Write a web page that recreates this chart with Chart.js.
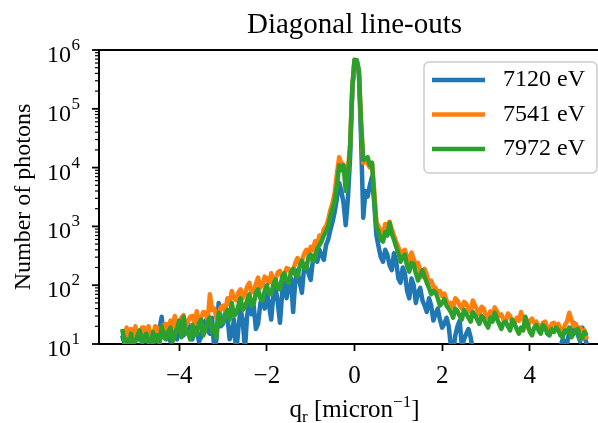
<!DOCTYPE html>
<html>
<head>
<meta charset="utf-8">
<script src="https://cdn.jsdelivr.net/npm/chart.js@4"></script>
<style>
  body { margin: 0; background: #fff; }
  #wrap { width: 598px; height: 423px; overflow: hidden; }
</style>
</head>
<body>
<div id="wrap"><canvas id="lineouts" width="710" height="423"></canvas></div>
<script>
// q_r positions (micron^-1)
var qValues = [
  -5.3, -5.25, -5.2, -5.15, -5.1, -5.05, -5.0, -4.95, -4.9, -4.85, -4.8, -4.75, -4.7, -4.65, -4.6, -4.55,
  -4.5, -4.45, -4.4, -4.35, -4.3, -4.25, -4.2, -4.15, -4.1, -4.05, -4.0, -3.95, -3.9, -3.85, -3.8, -3.75,
  -3.7, -3.65, -3.6, -3.55, -3.5, -3.45, -3.4, -3.35, -3.3, -3.25, -3.2, -3.15, -3.1, -3.05, -3.0, -2.95,
  -2.9, -2.85, -2.8, -2.75, -2.7, -2.65, -2.6, -2.55, -2.5, -2.45, -2.4, -2.35, -2.3, -2.25, -2.2, -2.15,
  -2.1, -2.05, -2.0, -1.95, -1.9, -1.85, -1.8, -1.75, -1.7, -1.65, -1.6, -1.55, -1.5, -1.45, -1.4, -1.35,
  -1.3, -1.25, -1.2, -1.15, -1.1, -1.05, -1.0, -0.95, -0.9, -0.85, -0.8, -0.75, -0.7, -0.65,
  -0.6, -0.55, -0.5, -0.45, -0.4, -0.35, -0.3, -0.25, -0.2, -0.15, -0.1, -0.05, 0,
  0.05, 0.1, 0.15, 0.2, 0.25, 0.3, 0.35, 0.4, 0.45, 0.5, 0.55, 0.6,
  0.65, 0.7, 0.75, 0.8, 0.85, 0.9, 0.95, 1.0, 1.05, 1.1, 1.15, 1.2, 1.25, 1.3, 1.35, 1.4,
  1.45, 1.5, 1.55, 1.6, 1.65, 1.7, 1.75, 1.8, 1.85, 1.9, 1.95, 2.0, 2.05, 2.1, 2.15, 2.2,
  2.25, 2.3, 2.35, 2.4, 2.45, 2.5, 2.55, 2.6, 2.65, 2.7, 2.75, 2.8, 2.85, 2.9, 2.95, 3.0,
  3.05, 3.1, 3.15, 3.2, 3.25, 3.3, 3.35, 3.4, 3.45, 3.5, 3.55, 3.6, 3.65, 3.7, 3.75, 3.8,
  3.85, 3.9, 3.95, 4.0, 4.05, 4.1, 4.15, 4.2, 4.25, 4.3, 4.35, 4.4, 4.45, 4.5, 4.55, 4.6,
  4.65, 4.7, 4.75, 4.8, 4.85, 4.9, 4.95, 5.0, 5.05, 5.1, 5.15, 5.2, 5.25, 5.3
];

// photon counts
var counts7120 = [
  14, 10, 11, 15, 13, 9, 16, 12, 12, 16, 15, 11, 13, 14, 10, 15,
  12, 18, 29, 13, 15, 19, 11, 16, 17, 12, 20, 15, 14, 19, 22, 14,
  12, 20, 18, 11, 13, 21, 25, 17, 15, 28, 8, 12, 50, 20, 22, 35,
  30, 12, 15, 26, 7, 18, 40, 25, 8, 30, 55, 32, 45, 18, 22, 48,
  65, 40, 80, 45, 26, 70, 90, 50, 23, 75, 110, 60, 100, 130, 35, 120,
  180, 110, 74, 200, 230, 160, 123, 260, 330, 250, 400, 320, 270, 480,
  600, 870, 1200, 1800, 3000, 5500, 4000, 2500, 1050, 3000, 15000, 200000, 650000,
  650000, 400000, 30000, 1400, 4000, 3200, 5000, 7000, 2500, 700, 450, 300,
  250, 400, 330, 220, 180, 350, 260, 130, 110, 200, 160, 80, 60, 130, 100, 50,
  75, 90, 55, 45, 35, 60, 45, 25, 33, 40, 26, 19, 22, 28, 20, 9,
  7, 14, 20, 25, 9, 12, 15, 18, 13, 8, 9, 6, 7, 5, 6, 4,
  5, 4, 4, 4, 4, 4, 4, 4, 4, 4, 4, 4, 4, 4, 4, 4,
  4, 4, 4, 4, 4, 5, 4, 5, 5, 6, 5, 6, 6, 7, 7, 8,
  8, 9, 12, 11, 10, 16, 14, 23, 17, 14, 11, 19, 13, 10
];
var counts7541 = [
  8, 7, 19, 13, 18, 12, 20, 15, 14, 19, 19, 12, 20, 14, 13, 20,
  19, 13, 16, 21, 22, 15, 25, 18, 30, 20, 22, 28, 31, 20, 24, 29,
  30, 22, 36, 24, 28, 35, 34, 25, 70, 38, 40, 28, 32, 42, 45, 35,
  60, 48, 80, 60, 55, 75, 85, 60, 70, 95, 110, 75, 80, 105, 135, 90,
  100, 140, 130, 110, 160, 115, 130, 165, 175, 135, 150, 195, 190, 160, 180, 240,
  290, 230, 260, 340, 400, 330, 450, 390, 560, 500, 700, 620, 900, 1000,
  1300, 1900, 2500, 3800, 8000, 15000, 12000, 11000, 6000, 9000, 25000, 230000, 680000,
  670000, 450000, 60000, 12000, 13500, 12000, 10000, 12000, 4000, 1200, 1000, 800,
  700, 1100, 850, 1200, 900, 700, 550, 450, 320, 380, 400, 300, 250, 360, 280, 220,
  240, 170, 140, 190, 150, 110, 120, 95, 90, 75, 80, 65, 72, 55, 45, 50,
  42, 60, 55, 45, 40, 52, 48, 40, 35, 55, 45, 38, 32, 43, 40, 30,
  28, 36, 30, 42, 36, 30, 32, 26, 24, 33, 30, 24, 22, 28, 25, 35,
  27, 22, 19, 25, 27, 23, 24, 20, 18, 23, 24, 19, 17, 22, 23, 20,
  22, 18, 16, 21, 24, 34, 26, 20, 22, 17, 19, 15, 17, 12
];
var counts7972 = [
  18, 11, 12, 9, 15, 10, 11, 14, 17, 10, 13, 15, 11, 9, 16, 11,
  14, 10, 20, 13, 12, 16, 19, 11, 14, 18, 25, 13, 29, 15, 16, 12,
  21, 14, 15, 22, 26, 14, 18, 24, 28, 16, 20, 13, 34, 22, 24, 30,
  38, 26, 50, 30, 33, 45, 60, 38, 42, 55, 70, 45, 48, 75, 85, 60,
  55, 80, 100, 72, 70, 105, 125, 90, 85, 140, 160, 115, 110, 165, 190, 150,
  140, 210, 260, 200, 190, 300, 330, 260, 280, 420, 480, 560, 700, 820,
  1000, 1500, 2000, 2800, 5000, 11000, 9000, 11000, 4000, 7000, 22000, 230000, 680000,
  670000, 450000, 55000, 13500, 14000, 15000, 11000, 12000, 3000, 1000, 800, 600,
  550, 800, 700, 1150, 750, 600, 450, 350, 250, 300, 330, 210, 170, 240, 230, 160,
  120, 150, 180, 140, 110, 90, 70, 80, 75, 60, 45, 50, 58, 45, 40, 35,
  28, 40, 36, 30, 26, 38, 33, 28, 24, 35, 31, 26, 22, 30, 27, 22,
  19, 28, 24, 34, 27, 22, 18, 23, 24, 20, 17, 26, 22, 18, 15, 19,
  17, 29, 22, 16, 14, 19, 21, 17, 15, 21, 19, 15, 14, 18, 16, 19,
  17, 14, 13, 17, 16, 19, 13, 15, 17, 18, 12, 13, 16, 14
];

var seriesLabels = ['7120 eV', '7541 eV', '7972 eV'];
var seriesColors = ['#1f77b4', '#ff7f0e', '#2ca02c'];
var xTicks = [-4, -2, 0, 2, 4];
var yTickExps = [1, 2, 3, 4, 5, 6];

var serif = "'Liberation Serif', 'Times New Roman', serif";

function points(vals) {
  return qValues.map(function (q, i) { return { x: q, y: vals[i] }; });
}

// title, y tick marks/labels, x label, top spine and legend
var decor = {
  id: 'decor',
  afterDraw: function (chart) {
    var ctx = chart.ctx, a = chart.chartArea, y = chart.scales.y;
    var cx = (a.left + a.right) / 2;
    ctx.save();
    ctx.fillStyle = '#000';
    ctx.strokeStyle = '#000';

    // top spine
    ctx.lineWidth = 2;
    ctx.beginPath();
    ctx.moveTo(a.left - 1, a.top);
    ctx.lineTo(a.right, a.top);
    ctx.stroke();

    // title
    ctx.font = '29px ' + serif;
    ctx.textAlign = 'center';
    ctx.textBaseline = 'alphabetic';
    ctx.fillText('Diagonal line-outs', cx, 33);

    // y ticks, major and minor
    for (var k = yTickExps[0]; k <= yTickExps[yTickExps.length - 1]; k++) {
      for (var m = 1; m <= 9; m++) {
        if (k === yTickExps[yTickExps.length - 1] && m > 1) break;
        var py = y.getPixelForValue(m * Math.pow(10, k));
        ctx.lineWidth = m === 1 ? 1.8 : 1.2;
        ctx.beginPath();
        ctx.moveTo(a.left, py);
        ctx.lineTo(a.left - (m === 1 ? 7 : 4), py);
        ctx.stroke();
      }
    }

    // y tick labels 10^k
    ctx.textAlign = 'left';
    yTickExps.forEach(function (e) {
      var py = y.getPixelForValue(Math.pow(10, e));
      ctx.font = '17px ' + serif;
      var sw = ctx.measureText(String(e)).width;
      var right = a.left - 19;
      ctx.fillText(String(e), right - sw, py);
      ctx.font = '24px ' + serif;
      var bw = ctx.measureText('10').width;
      ctx.fillText('10', right - sw - bw - 0.5, py + 12);
    });

    // x axis label: q_r [micron^-1]
    var parts = [
      ['q', 25, 0], ['r', 17, 5], [' [micron', 25, 0], ['\u22121', 17, -10], [']', 25, 0]
    ];
    var total = 0;
    parts.forEach(function (p) {
      ctx.font = p[1] + 'px ' + serif;
      p.push(ctx.measureText(p[0]).width);
      total += p[3];
    });
    var tx = cx - total / 2;
    parts.forEach(function (p) {
      ctx.font = p[1] + 'px ' + serif;
      ctx.fillText(p[0], tx, 417 + p[2]);
      tx += p[3];
    });

    // legend
    var w = 173, h = 111;
    var x0 = a.right - 13 - w, y0 = a.top + 12;
    ctx.beginPath();
    ctx.roundRect(x0, y0, w, h, 5);
    ctx.fillStyle = 'rgba(255,255,255,0.8)';
    ctx.fill();
    ctx.strokeStyle = '#cccccc';
    ctx.lineWidth = 1.5;
    ctx.stroke();
    ctx.font = '24px ' + serif;
    ctx.textBaseline = 'middle';
    seriesLabels.forEach(function (lab, i) {
      var ly = y0 + 18 + i * 34.5;
      ctx.strokeStyle = seriesColors[i];
      ctx.lineWidth = 4.5;
      ctx.beginPath();
      ctx.moveTo(x0 + 8, ly);
      ctx.lineTo(x0 + 61, ly);
      ctx.stroke();
      ctx.fillStyle = '#000';
      ctx.fillText(lab, x0 + 79, ly);
    });
    ctx.restore();
  }
};

var datasets = [counts7120, counts7541, counts7972].map(function (vals, i) {
  return {
    label: seriesLabels[i],
    data: points(vals),
    borderColor: seriesColors[i],
    backgroundColor: seriesColors[i],
    borderWidth: 4.5,
    pointRadius: 0,
    tension: 0,
    fill: false,
    borderJoinStyle: 'round',
    clip: 0,
    order: 3 - i
  };
});

new Chart(document.getElementById('lineouts').getContext('2d'), {
  type: 'line',
  data: { datasets: datasets },
  options: {
    responsive: false,
    animation: false,
    events: [],
    layout: { padding: { top: 50, right: 100, left: 0, bottom: 0 } },
    plugins: {
      legend: { display: false },
      title: { display: false },
      tooltip: { enabled: false }
    },
    scales: {
      x: {
        type: 'linear',
        min: -5.83,
        max: 5.83,
        afterBuildTicks: function (s) {
          s.ticks = xTicks.map(function (v) { return { value: v }; });
        },
        afterFit: function (s) { s.height = 79; },
        ticks: {
          color: '#000',
          padding: 10,
          font: { family: serif, size: 25 },
          callback: function (v) { return String(v).replace('-', '\u2212'); }
        },
        grid: {
          display: true,
          drawOnChartArea: false,
          drawTicks: true,
          tickLength: 7,
          tickWidth: 1.8,
          tickColor: '#000'
        },
        border: { display: true, color: '#000', width: 2 }
      },
      y: {
        type: 'logarithmic',
        min: 10,
        max: 1e6,
        afterFit: function (s) { s.width = 99; },
        ticks: { display: false },
        grid: { display: false },
        border: { display: true, color: '#000', width: 2 },
        title: {
          display: true,
          text: 'Number of photons',
          color: '#000',
          font: { family: serif, size: 24 },
          padding: { top: 9, bottom: 0 }
        }
      }
    }
  },
  plugins: [decor]
});
</script>
</body>
</html>
